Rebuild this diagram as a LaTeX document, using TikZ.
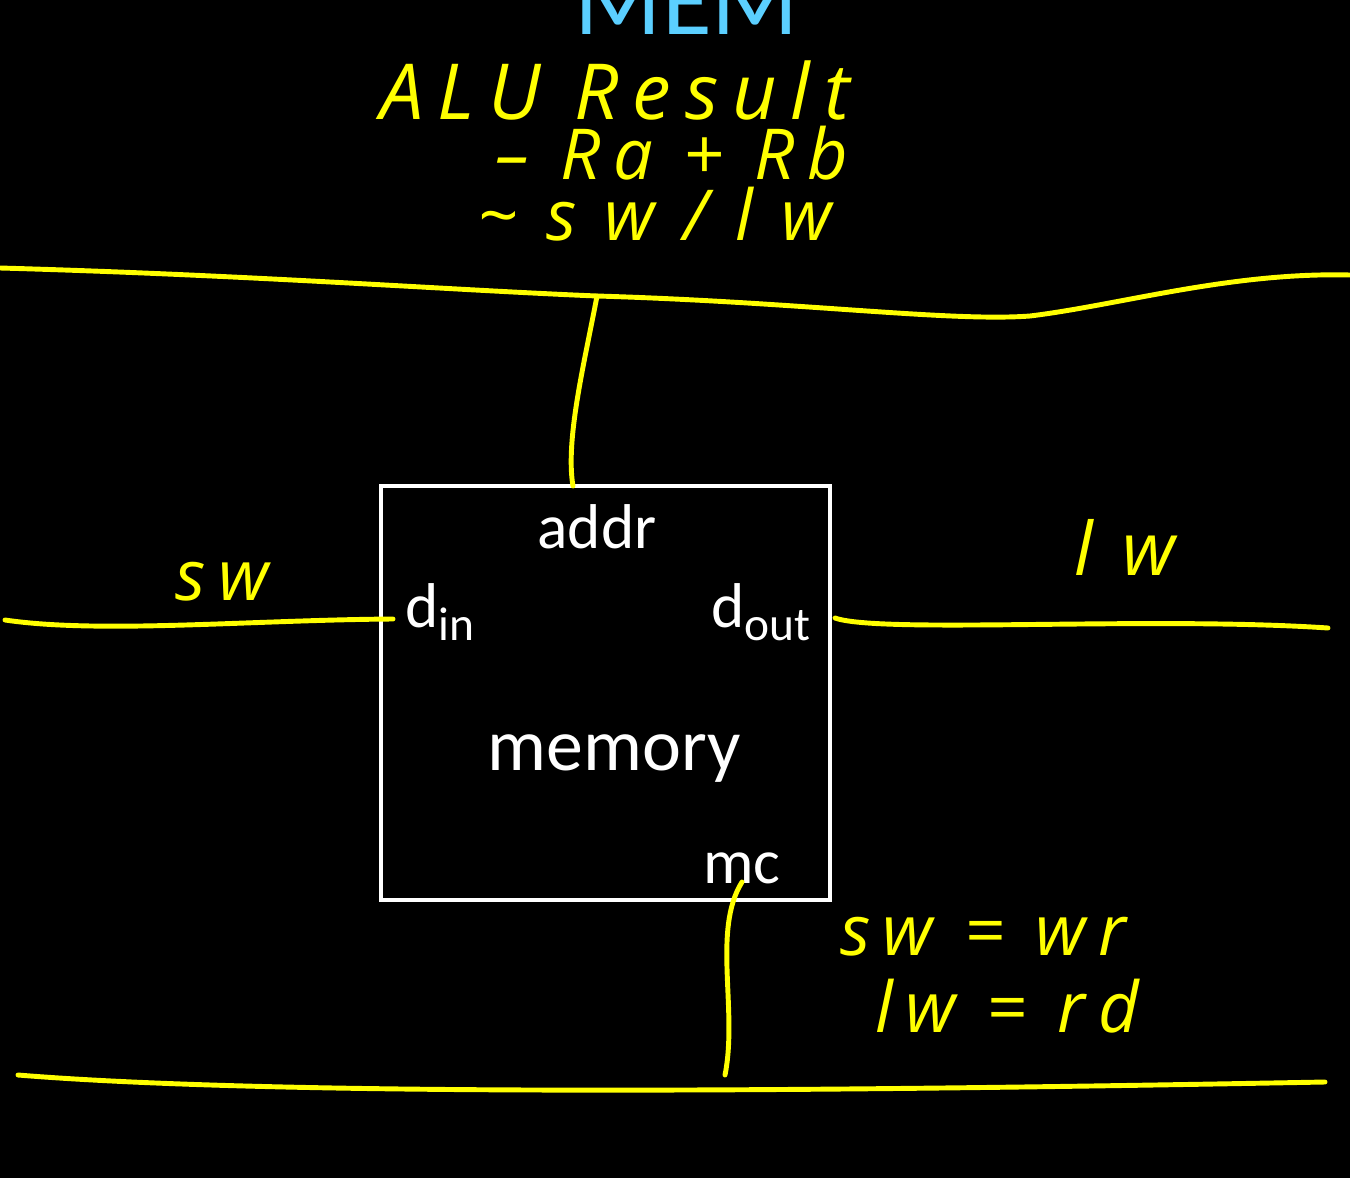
\documentclass[tikz,border=0pt]{standalone}
\usepackage{fontspec}
\setmainfont{Carlito}
\newfontfamily\handfont{Open Sans}[LetterSpace=18]
\newfontfamily\handwide{Open Sans}[LetterSpace=40]
\usetikzlibrary{positioning}
\definecolor{penyellow}{RGB}{255,255,0}
\definecolor{titleblue}{RGB}{91,207,255}
\newcommand{\pinsub}[1]{\raisebox{-0.22em}{\scalebox{0.75}{#1}}}

\begin{document}
\begin{tikzpicture}[x=0.2mm, y=-0.2mm,
  membox/.style = {draw=white, line width=2.2pt, minimum width=89.8mm, minimum height=82.8mm},
  port/.style = {text=white, font={\fontsize{36}{40}\selectfont}, inner sep=0pt, anchor=base},
  hand/.style = {text=penyellow, font={\handfont\itshape\fontsize{40}{44}\selectfont}, inner sep=0pt, anchor=base},
  yline/.style = {draw=penyellow, line width=2.8pt, line cap=round, line join=round}]
  \fill[black] (0,0) rectangle (1350,1178);
  \clip (0,0) rectangle (1350,1178);

  \node[text=titleblue, font={\fontsize{58}{60}\selectfont}, inner sep=0pt, anchor=base] (title) at (687,35) {MEM};

  % memory block
  \node[membox] (mem) at (605.5,693) {};
  \node[port] (addr) at (597,548) {addr};
  \node[port, anchor=base west] (din) at (405,627) {d\pinsub{in}};
  \node[port, anchor=base west] (dout) at (711,627) {d\pinsub{out}};
  \node[port, font={\fontsize{42}{46}\selectfont}] (memory) at (614,770) {memory};
  \node[port] (mc) at (742,883) {mc};

  % handwritten notes
  \node[hand, font={\handfont\itshape\fontsize{44}{48}\selectfont}] (alu) at (615,120) {ALU Result};
  \node[hand] (rarb) at (672,180) {– Ra + Rb};
  \node[hand, font={\handwide\itshape\fontsize{40}{44}\selectfont}] (swlw) at (655,240) {\textasciitilde sw/lw};
  \node[hand] (sw) at (222,600) {sw};
  \node[hand, font={\handwide\itshape\fontsize{42}{46}\selectfont}] (lw) at (1125,575) {lw};
  \node[hand] (swwr) at (983,955) {sw = wr};
  \node[hand] (lwrd) at (1007,1032) {lw = rd};

  % wires
  \coordinate (busW) at (0,268);
  \coordinate (tap) at (597,296);
  \coordinate (dip) at (1030,316);
  \coordinate (busE) at (1350,275);
  \coordinate (addrpin) at (573,486);
  \coordinate (dinW) at (5,620);
  \coordinate (dinpin) at (393,619);
  \coordinate (doutpin) at (835,618);
  \coordinate (doutE) at (1328,628);
  \coordinate (mcpin) at (742,882);
  \coordinate (mcend) at (725,1075);
  \coordinate (botW) at (18,1075);
  \coordinate (botE) at (1325,1082);

  \draw[yline] (busW) .. controls (250,275) and (450,290) .. (tap)
    .. controls (800,302) and (950,322) .. (dip)
    .. controls (1120,305) and (1230,272) .. (busE);
  \draw[yline] (tap) .. controls (585,360) and (565,440) .. (addrpin);
  \draw[yline] (dinW) .. controls (100,634) and (250,620) .. (dinpin);
  \draw[yline] (doutpin) .. controls (880,634) and (1150,616) .. (doutE);
  \draw[yline] (mcpin) .. controls (712,930) and (738,1010) .. (mcend);
  \draw[yline] (botW) .. controls (300,1098) and (900,1090) .. (botE);
\end{tikzpicture}
\end{document}
